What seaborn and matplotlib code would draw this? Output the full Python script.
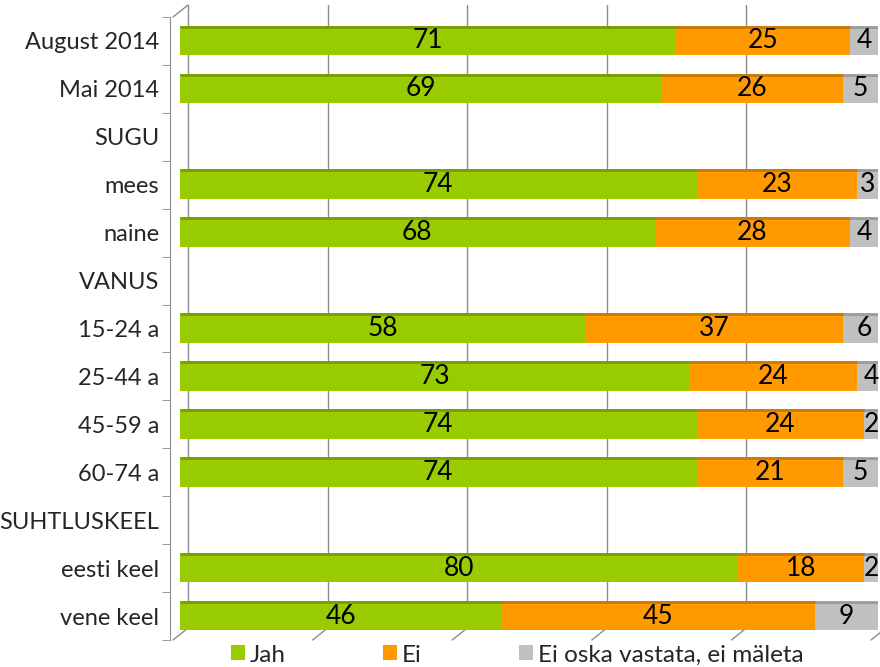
import numpy as np
import pandas as pd
import matplotlib
matplotlib.use("Agg")
import matplotlib.pyplot as plt
import matplotlib.transforms as mtransforms
from matplotlib.patches import Patch
import seaborn as sns

# data (percent)
categories = ["August 2014", "Mai 2014", "SUGU", "mees", "naine", "VANUS",
              "15-24 a", "25-44 a", "45-59 a", "60-74 a", "SUHTLUSKEEL",
              "eesti keel", "vene keel"]
jah = [71, 69, np.nan, 74, 68, np.nan, 58, 73, 74, 74, np.nan, 80, 46]
ei = [25, 26, np.nan, 23, 28, np.nan, 37, 24, 24, 21, np.nan, 18, 45]
ei_oska = [4, 5, np.nan, 3, 4, np.nan, 6, 4, 2, 5, np.nan, 2, 9]

series_names = ["Jah", "Ei", "Ei oska vastata, ei mäleta"]
colors = ["#99CC00", "#FF9900", "#C0C0C0"]
top_colors = ["#7A9F00", "#CC7A00", "#9A9A9A"]
grid_color = "#8C8C8C"


def main():
    sns.set_style("white")
    plt.rcParams["font.family"] = ["Lato", "DejaVu Sans"]

    df = pd.DataFrame({"category": categories, "jah": jah, "ei": ei, "ei_oska": ei_oska})
    df["c1"] = df["jah"]
    df["c2"] = df["jah"] + df["ei"]
    df["c3"] = df["c2"] + df["ei_oska"]

    fig = plt.figure(figsize=(8.8, 6.67), dpi=100)
    ax = fig.add_axes([180 / 880, 27 / 667, 698 / 880, 623 / 667])

    # stacked bars: draw cumulative totals back to front
    for col, color, top in zip(["c3", "c2", "c1"], colors[::-1], top_colors[::-1]):
        n_before = len(ax.patches)
        sns.barplot(data=df, x=col, y="category", order=categories, orient="h",
                    color=color, saturation=1, width=0.6, ax=ax, zorder=3,
                    linewidth=0)
        # darker top edge like the 3D bar top face
        for p in ax.patches[n_before:]:
            if p.get_width() > 0:
                ax.plot([p.get_x(), p.get_x() + p.get_width()], [p.get_y(), p.get_y()],
                        color=top, lw=2, zorder=3, solid_capstyle="butt")

    ax.set_xlim(0, 100)
    ax.set_ylim(len(categories) - 0.5, -0.5)
    ax.set_xlabel("")
    ax.set_ylabel("")
    ax.set_xticks([])

    # data labels
    for i, row in df.iterrows():
        if np.isnan(row["jah"]):
            continue
        starts = [0, row["c1"], row["c2"]]
        for s, v in zip(starts, [row["jah"], row["ei"], row["ei_oska"]]):
            ax.text(s + v / 2, i, f"{v:.0f}", ha="center", va="center",
                    fontsize=19, color="black", zorder=5)

    # pseudo-3D frame: back wall gridlines and floor ticks
    px = 1 / 100
    back = mtransforms.ScaledTranslation(8 * px, 12 * px, fig.dpi_scale_trans)
    front = mtransforms.ScaledTranslation(-7 * px, 0, fig.dpi_scale_trans)
    xt = ax.get_xaxis_transform()
    for v in [0, 20, 40, 60, 80, 100]:
        if v > 0:
            ax.plot([v, v], [0, 1], color=grid_color, lw=1,
                    transform=xt + back, clip_on=False, zorder=1)
        fx, fy = (xt + front).transform((v, 0))
        bx, by = (xt + back).transform((v, 0))
        ax.add_line(plt.Line2D([fx, bx], [fy, by], color=grid_color, lw=1,
                               transform=None, clip_on=False, zorder=1))
    ax.plot([0, 0], [0, 1], color=grid_color, lw=1, transform=xt + back,
            clip_on=False, zorder=1)
    fx, fy = (xt + front).transform((0, 1))
    bx, by = (xt + back).transform((0, 1))
    ax.add_line(plt.Line2D([fx, bx], [fy, by], color=grid_color, lw=1,
                           transform=None, clip_on=False, zorder=1))

    for side in ["top", "right", "bottom"]:
        ax.spines[side].set_visible(False)
    ax.spines["left"].set_position(("outward", 7))
    ax.spines["left"].set_color(grid_color)
    ax.set_yticks(np.arange(-0.5, len(categories)), minor=True)
    ax.tick_params(axis="y", which="major", length=0, pad=8, labelsize=17)
    ax.tick_params(axis="y", which="minor", length=6, color=grid_color, left=True)

    handles = [Patch(facecolor=c, edgecolor="none") for c in colors]
    fig.legend(handles, series_names, loc="center", bbox_to_anchor=(517 / 880, 1 - 655 / 667),
               ncol=3, frameon=False, fontsize=17.5, handlelength=0.58, handleheight=0.58,
               handletextpad=0.2, columnspacing=4.0, borderpad=0)

    fig.savefig("out.png", dpi=100)


if __name__ == "__main__":
    main()
